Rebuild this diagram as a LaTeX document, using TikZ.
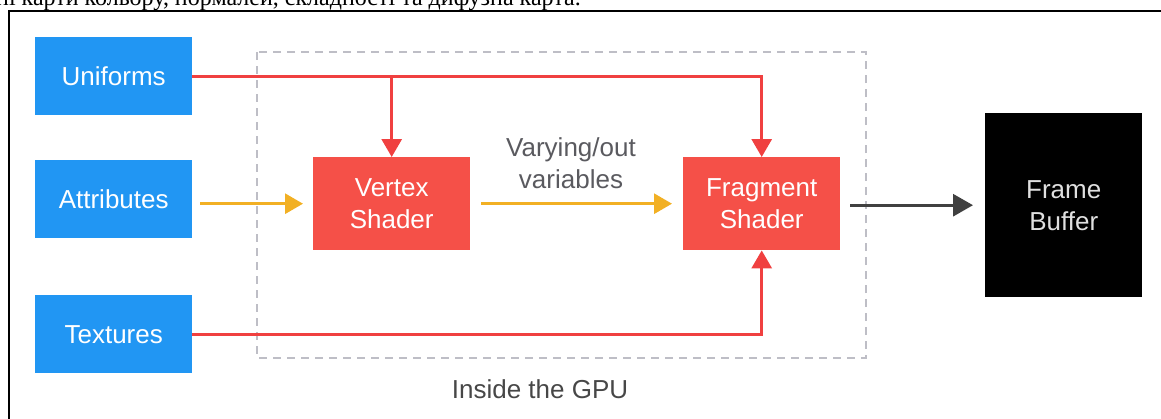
\documentclass[tikz,border=0pt]{standalone}
\usepackage{fontspec}
\setmainfont{Liberation Sans}
\newfontfamily\serifcyr{Liberation Serif}
\usetikzlibrary{arrows.meta}
\definecolor{boxblue}{RGB}{33,150,243}
\definecolor{boxred}{RGB}{245,80,72}
\definecolor{linered}{RGB}{240,64,64}
\definecolor{lineorange}{RGB}{242,176,36}
\definecolor{linedark}{RGB}{64,64,64}
\definecolor{txtgray}{RGB}{90,90,95}
\definecolor{dashgray}{RGB}{190,190,198}
\begin{document}
\begin{tikzpicture}[x=1pt,y=-1pt,
  boxbase/.style={inner sep=0pt, anchor=north west, align=center, text=white,
    font=\fontsize{26}{32}\selectfont},
  inbox/.style={boxbase, fill=boxblue, minimum width=157pt, minimum height=78pt},
  shbox/.style={boxbase, fill=boxred, minimum width=157pt, minimum height=93pt},
  fbbox/.style={boxbase, fill=black, minimum width=157pt, minimum height=184pt, text=white!88!black},
  redline/.style={draw=linered, line width=3pt, -{Triangle[width=20pt,length=18pt]}},
  orangeline/.style={draw=lineorange, line width=3pt, -{Triangle[width=20pt,length=18pt]}},
  darkline/.style={draw=linedark, line width=3pt, -{Triangle[width=22pt,length=20pt]}},
  lbl/.style={text=txtgray, align=center, font=\fontsize{26}{32}\selectfont}
]
\useasboundingbox (0,0) rectangle (1161,418);
% cropped caption line above the frame
\node[anchor=base west, inner sep=0pt, font=\serifcyr\fontsize{24}{28}\selectfont] (cap) at (-4,5)
  {ні карти кольору, нормалей, складності та дифузна карта.};
% outer frame
\draw[line width=2.2pt] (9,430) -- (9,11) -- (1175,11);
% GPU region
\draw[dashgray, line width=2pt, dash pattern=on 8pt off 6pt] (257,52) rectangle (866,358);
% nodes
\node[inbox] (uni) at (35,37) {Uniforms};
\node[inbox] (att) at (35,160) {Attributes};
\node[inbox] (tex) at (35,295) {Textures};
\node[shbox] (vert) at (313,157) {Vertex\\Shader};
\node[shbox] (frag) at (683,157) {Fragment\\Shader};
\node[fbbox] (fb) at (985,113) {Frame\\Buffer};
\node[lbl] (vary) at (571,163) {Varying/out\\variables};
\node[lbl, text=black!72] (gpu) at (540,389) {Inside the GPU};
% connectors
\draw[redline] (uni.east) -| (frag.north);
\draw[redline] (vert.north |- uni.east) -- (vert.north);
\draw[redline] (tex.east) -| (frag.south);
\draw[orangeline, shorten <=8pt, shorten >=10pt] (att.east |- vert.west) -- (vert.west);
\draw[orangeline, shorten <=11pt, shorten >=11pt] (vert.east) -- (frag.west);
\draw[darkline, shorten <=10pt, shorten >=12pt] (frag.east |- fb.west) -- (fb.west);
\end{tikzpicture}
\end{document}
